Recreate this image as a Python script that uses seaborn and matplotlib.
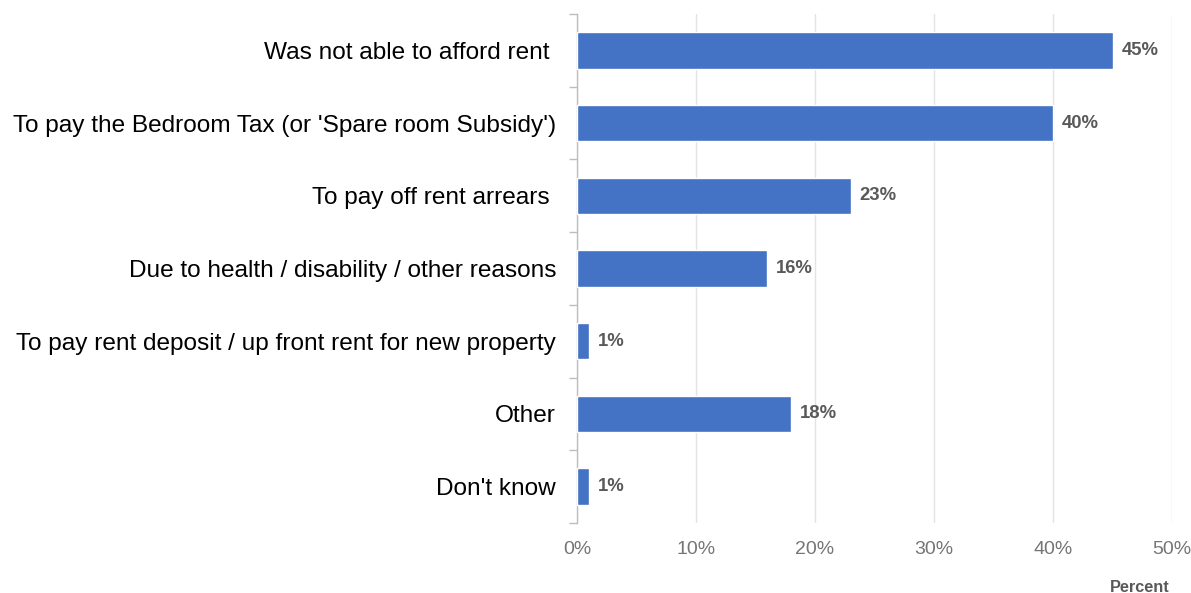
import matplotlib
matplotlib.use("Agg")
import matplotlib.pyplot as plt
import seaborn as sns
import pandas as pd
import numpy as np

categories = [
    "Was not able to afford rent ",
    "To pay the Bedroom Tax (or 'Spare room Subsidy')",
    "To pay off rent arrears ",
    "Due to health / disability / other reasons",
    "To pay rent deposit / up front rent for new property",
    "Other",
    "Don't know",
]
values = [45, 40, 23, 16, 1, 18, 1]
x_ticks = [0, 10, 20, 30, 40, 50]

sns.set_theme(style="white")
plt.rcParams["font.family"] = ["Liberation Sans", "DejaVu Sans"]

df = pd.DataFrame({"reason": categories, "pct": values})

fig = plt.figure(figsize=(11.91, 5.93), dpi=100)
ax = fig.add_axes([577 / 1191, 1 - 523 / 593, (1172 - 577) / 1191, (523 - 14) / 593])

sns.barplot(data=df, y="reason", x="pct", color="#4472c4", width=0.5,
            saturation=1, ax=ax, zorder=3)

ax.set_xlim(0, 50)
ax.set_ylim(len(categories) - 0.5, -0.5)
ax.set_xticks(x_ticks)
ax.set_xticklabels([f"{t}%" for t in x_ticks], color="#757575", fontsize=14)
ax.tick_params(axis="x", length=0, pad=13)
ax.tick_params(axis="y", which="major", left=False, length=0, pad=15,
               labelsize=17.6, labelcolor="black")
ax.set_yticks(np.arange(-0.5, len(categories), 1), minor=True)
ax.tick_params(axis="y", which="minor", left=True, length=6, width=1, color="#bdbdbd")

ax.grid(axis="x", color="#e3e3e3", linewidth=1, zorder=0)
ax.set_axisbelow(True)
for side in ["top", "right", "bottom"]:
    ax.spines[side].set_visible(False)
ax.spines["left"].set_color("#bdbdbd")
ax.spines["left"].set_linewidth(1)

ax.set_xlabel("")
ax.set_ylabel("")

for i, v in enumerate(values):
    ax.text(v + 0.75, i, f"{v}%", va="center", ha="left", fontsize=13.3,
            fontweight="bold", color="#595959")

fig.text(1170 / 1191, 1 - 587 / 593, "Percent", ha="right", va="center",
         fontsize=11.7, fontweight="bold", color="#595959")

fig.savefig("out.png", dpi=100)
